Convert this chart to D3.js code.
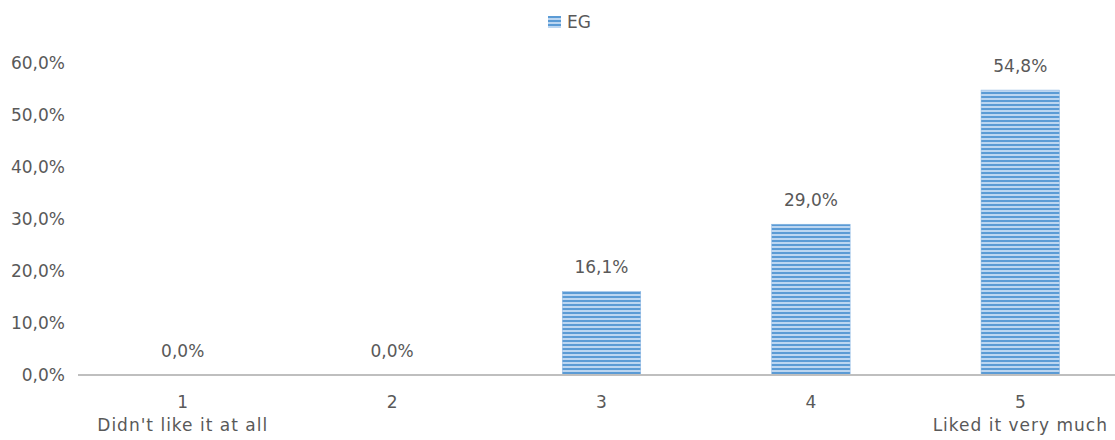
<!DOCTYPE html>
<html>
<head>
<meta charset="utf-8">
<script src="https://cdn.jsdelivr.net/npm/d3@7"></script>
<style>
  html, body { margin: 0; padding: 0; background: #fff; }
  svg { display: block; }
  text { font-family: "DejaVu Sans", sans-serif; fill: #595959; }
</style>
</head>
<body>
<svg id="chart" width="1115" height="440"></svg>
<script>
// Ratings, 1 to 5
const categories = ["1", "2", "3", "4", "5"];
const subLabels = ["Didn't like it at all", "", "", "", "Liked it very much"];
const seriesName = "EG";
const values = [0.0, 0.0, 16.1, 29.0, 54.8];
const yTicks = [0, 10, 20, 30, 40, 50, 60];

const fmt = v => v.toFixed(1).replace(".", ",") + "%";

const svg = d3.select("#chart");
const W = 1115, H = 440;
const plot = { left: 78, right: 1125, top: 63, bottom: 375 };
const FS = 17;

const x = d3.scaleBand().domain(categories).range([plot.left, plot.right]).paddingInner(0.625).paddingOuter(0.3125);
const y = d3.scaleLinear().domain([0, 60]).range([plot.bottom, plot.top]);

// Horizontal-stripe fill for the bars
const defs = svg.append("defs");
const pat = defs.append("pattern")
  .attr("id", "stripes").attr("patternUnits", "userSpaceOnUse")
  .attr("width", 8).attr("height", 4);
pat.append("rect").attr("width", 8).attr("height", 4).attr("fill", "#bcd6f1");
pat.append("rect").attr("width", 8).attr("height", 2).attr("fill", "#5b9bd5");

// Y axis labels (no gridlines)
const yAxis = d3.axisLeft(y).tickValues(yTicks).tickSize(0).tickPadding(0).tickFormat(fmt);
const gy = svg.append("g").attr("transform", "translate(65,0)").call(yAxis);
gy.select(".domain").remove();
gy.selectAll("text").attr("font-size", FS).attr("font-family", "DejaVu Sans, sans-serif").attr("fill", "#595959");

// Bars
svg.append("g").selectAll("rect").data(values).join("rect")
  .attr("x", (d, i) => x(categories[i]))
  .attr("y", d => y(d))
  .attr("width", x.bandwidth())
  .attr("height", d => y(0) - y(d))
  .attr("fill", "url(#stripes)")
  .attr("stroke", "#8db8e4").attr("stroke-width", 0.5);

// X axis line
svg.append("line")
  .attr("x1", plot.left).attr("x2", W)
  .attr("y1", y(0)).attr("y2", y(0))
  .attr("stroke", "#bfbfbf").attr("stroke-width", 2);

// Value labels
svg.append("g").selectAll("text").data(values).join("text")
  .attr("x", (d, i) => x(categories[i]) + x.bandwidth() / 2)
  .attr("y", d => y(d) - 18)
  .attr("text-anchor", "middle").attr("font-size", FS)
  .text(d => fmt(d));

// Category labels
const xl = svg.append("g").selectAll("g").data(categories).join("g")
  .attr("transform", d => `translate(${x(d) + x.bandwidth() / 2},0)`);
xl.append("text").attr("y", 408).attr("text-anchor", "middle").attr("font-size", FS).text(d => d);
xl.append("text").attr("y", 431).attr("text-anchor", "middle").attr("font-size", FS)
  .attr("letter-spacing", 1).text((d, i) => subLabels[i]);

// Legend
const lg = svg.append("g").attr("transform", "translate(548,16)");
lg.append("rect").attr("width", 13).attr("height", 12).attr("fill", "url(#stripes)");
lg.append("text").attr("x", 19).attr("y", 12).attr("font-size", FS).text(seriesName);
</script>
</body>
</html>
